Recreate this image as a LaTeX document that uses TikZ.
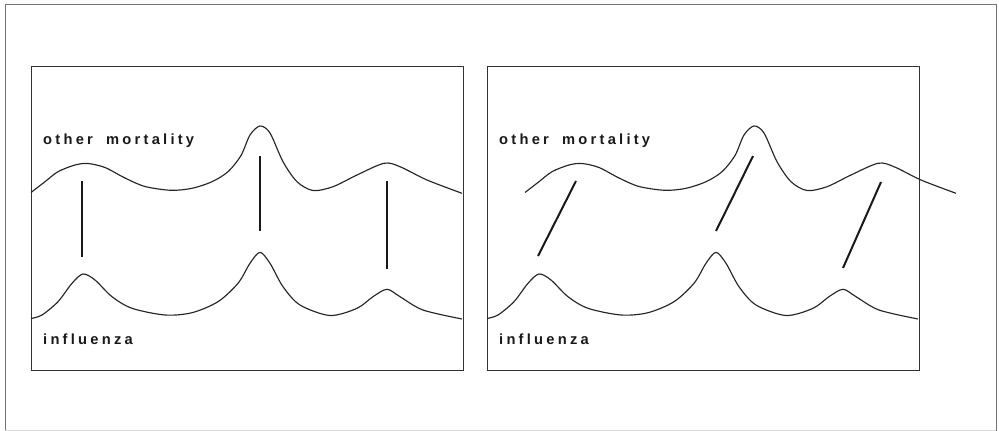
\documentclass[tikz,border=0pt]{standalone}
\usepackage{fontspec}
\newfontfamily\lblfont{Liberation Sans}[LetterSpace=22]
\begin{document}
\begin{tikzpicture}[x=1pt,y=-1pt,
  curve/.style={line width=1.15pt, line join=round, draw=black!85},
  bar/.style={line width=2pt, draw=black!90},
  panel/.style={line width=1pt, draw=black!80},
  frame/.style={line width=1pt, draw=black!55},
  lbl/.style={anchor=base west, inner sep=0pt, text=black!90,
    font=\lblfont\bfseries\fontsize{14.7}{16}\selectfont}]
\useasboundingbox (0,0) rectangle (999,431);
% outer frame
\draw[frame] (5,431) -- (5,4) -- (996,4) -- (996,431);
\draw[line width=0.5pt, draw=black!15] (5,430) -- (996,430);
% panels
\draw[panel] (31,66) rectangle (463,370);
\draw[panel] (487,66) rectangle (919,370);
% curves
\newcommand{\myUpperCurve}{%
  plot[smooth, tension=0.5] coordinates {(31,192.5) (45,181.7) (58,171.7) (75,165) (88,163.5) (105,167.5) (125,178) (145,186.5) (171,190.3) (192,188.3) (212,181.7) (228,171.7) (241,155.5) (250,135) (260,126) (270,133) (283,161.7) (297,181.7) (313,190.5) (333,186.7) (357,175) (384,163.3) (400,166.7) (427,180) (462,193.3)}}
\newcommand{\myLowerCurve}{%
  plot[smooth, tension=0.5] coordinates {(31,318.5) (42,315) (58,301.7) (72,283.3) (83,274) (95,280) (112,296.7) (132,308.3) (165,315) (192,312.7) (218,301.7) (238,283.3) (250,263.3) (260,252.3) (270,263.3) (283,286.7) (300,305) (330,315.5) (357,308.3) (373,296.7) (387,289.3) (400,296.7) (423,310) (462,319)}}
\draw[curve] \myUpperCurve;
\draw[curve] \myLowerCurve;
\begin{scope}[xshift=494pt]
  \draw[curve] \myUpperCurve;
\end{scope}
\begin{scope}[xshift=456pt]
  \draw[curve] \myLowerCurve;
\end{scope}
% bar end points
\coordinate (a1) at (82,257);  \coordinate (b1) at (82,181);
\coordinate (a2) at (260,231); \coordinate (b2) at (260,156);
\coordinate (a3) at (387,269); \coordinate (b3) at (387,181);
\coordinate (c1) at (538,256); \coordinate (d1) at (576,181);
\coordinate (c2) at (716,231); \coordinate (d2) at (753,156);
\coordinate (c3) at (843,268); \coordinate (d3) at (881,182);
\draw[bar] (a1) -- (b1);
\draw[bar] (a2) -- (b2);
\draw[bar] (a3) -- (b3);
\draw[bar] (c1) -- (d1);
\draw[bar] (c2) -- (d2);
\draw[bar] (c3) -- (d3);
% labels
\node[lbl] (om1) at (43,144) {other\ \hspace{6pt}mortality};
\node[lbl] (in1) at (43,344) {influenza};
\node[lbl] (om2) at (499,144) {other\ \hspace{6pt}mortality};
\node[lbl] (in2) at (499,344) {influenza};
\end{tikzpicture}
\end{document}
